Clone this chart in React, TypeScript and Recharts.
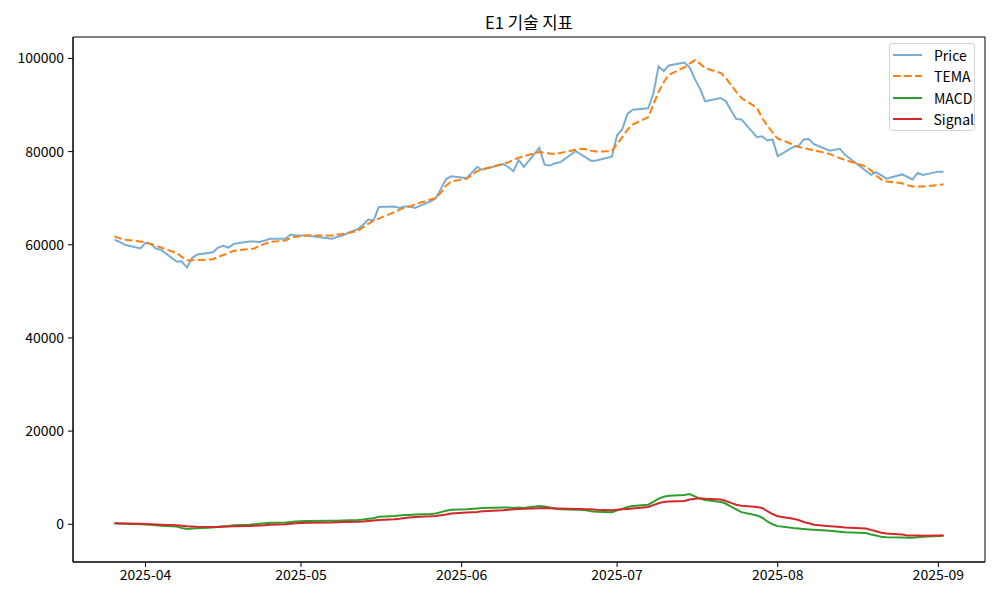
import React from 'react';
import { LineChart, Line, XAxis, YAxis, ReferenceArea } from 'recharts';

// trading days (KRX)
const dates = [
  '2025-03-26', '2025-03-27', '2025-03-28', '2025-03-31',
  '2025-04-01', '2025-04-02', '2025-04-03', '2025-04-04', '2025-04-07', '2025-04-08', '2025-04-09', '2025-04-10',
  '2025-04-11', '2025-04-14', '2025-04-15', '2025-04-16', '2025-04-17', '2025-04-18', '2025-04-21', '2025-04-22',
  '2025-04-23', '2025-04-24', '2025-04-25', '2025-04-28', '2025-04-29', '2025-04-30',
  '2025-05-02', '2025-05-07', '2025-05-08', '2025-05-09', '2025-05-12', '2025-05-13', '2025-05-14', '2025-05-15',
  '2025-05-16', '2025-05-19', '2025-05-20', '2025-05-21', '2025-05-22', '2025-05-23', '2025-05-26', '2025-05-27',
  '2025-05-28', '2025-05-29', '2025-05-30',
  '2025-06-02', '2025-06-04', '2025-06-05', '2025-06-09', '2025-06-10', '2025-06-11', '2025-06-12', '2025-06-13',
  '2025-06-16', '2025-06-17', '2025-06-18', '2025-06-19', '2025-06-20', '2025-06-23', '2025-06-24', '2025-06-25',
  '2025-06-26', '2025-06-27', '2025-06-30',
  '2025-07-01', '2025-07-02', '2025-07-03', '2025-07-04', '2025-07-07', '2025-07-08', '2025-07-09', '2025-07-10',
  '2025-07-11', '2025-07-14', '2025-07-15', '2025-07-16', '2025-07-17', '2025-07-18', '2025-07-21', '2025-07-22',
  '2025-07-23', '2025-07-24', '2025-07-25', '2025-07-28', '2025-07-29', '2025-07-30', '2025-07-31',
  '2025-08-01', '2025-08-04', '2025-08-05', '2025-08-06', '2025-08-07', '2025-08-08', '2025-08-11', '2025-08-12',
  '2025-08-13', '2025-08-14', '2025-08-18', '2025-08-19', '2025-08-20', '2025-08-21', '2025-08-22', '2025-08-25',
  '2025-08-26', '2025-08-27', '2025-08-28', '2025-08-29',
  '2025-09-01', '2025-09-02',
];

const price = [
  61100, 60600, 60000, 59200,
  60400, 60200, 59200, 58900, 56400, 56400, 55100, 57200, 57900, 58400, 59400, 59800, 59400, 60200, 60700, 60700,
  60600, 60900, 61300, 61300, 62200, 62000,
  62000, 61300, 61700, 62000, 63400, 64300, 65400, 65200, 68100, 68200, 67900, 68200, 68200, 67900, 69300, 70000,
  72000, 74100, 74700,
  74300, 76700, 76100, 77300, 76700, 75800, 78200, 76700, 80800, 77200, 77000, 77500, 77700, 80100, 79400, 78700,
  78000, 78100, 78900,
  83500, 84800, 88100, 89000, 89300, 92400, 98300, 97300, 98500, 99100, 98100, 95600, 93500, 90800, 91500, 90800,
  88800, 87000, 86900, 83100, 83300, 82400, 82600,
  79000, 81000, 81200, 82600, 82700, 81600, 80200, 80400, 80600, 79300, 75900, 75000, 75600, 74900, 74200, 75100,
  74600, 74000, 75400, 75000,
  75700, 75700,
];

const tema = [
  61800, 61400, 61100, 60700,
  60500, 60200, 59800, 59400, 58200, 57400, 56700, 56700, 56700, 56900, 57400, 57800, 58200, 58700, 59100, 59200,
  59800, 60200, 60600, 60900, 61500, 61700,
  62000, 62000, 62200, 62300, 63000, 63800, 64500, 65200, 65600, 67000, 67500, 68000, 68200, 68700, 69700, 70000,
  71200, 72700, 73600,
  74200, 75800, 76200, 77400, 77700, 78200, 78700, 79000, 79900, 79800, 79600, 79500, 79700, 80400, 80600, 80500,
  80200, 80000, 80100,
  81700, 83100, 84700, 85800, 87400, 90100, 92800, 94900, 96500, 98100, 98900, 99600, 98900, 97900, 96900, 95800,
  94300, 92800, 91500, 89400, 87200, 85600, 84100,
  82800, 81500, 81000, 80800, 80500, 80300, 79500, 79000, 78600, 78200, 76800, 76000, 74900, 74000, 73600, 73200,
  72800, 72500, 72500, 72500,
  72800, 73000,
];

const macd = [
  200, 150, 100, 0,
  -50, -100, -200, -300, -500, -800, -1000, -900, -850, -700, -550, -400, -350, -200, -100, 0,
  100, 200, 300, 400, 500, 600,
  700, 750, 750, 800, 900, 1000, 1200, 1300, 1600, 1800, 1900, 2000, 2000, 2100, 2200, 2300,
  2600, 2900, 3100,
  3200, 3400, 3500, 3600, 3600, 3500, 3600, 3500, 3900, 3800, 3600, 3400, 3200, 3100, 3100, 3000,
  2800, 2700, 2600,
  3000, 3300, 3700, 3900, 4200, 4800, 5500, 5900, 6100, 6300, 6500, 6000, 5500, 5200, 4800, 4400,
  3800, 3200, 2600, 1900, 1400, 600, 0,
  -400, -800, -900, -1000, -1100, -1200, -1400, -1500, -1600, -1700, -1900, -2200, -2400, -2700, -2800, -2850,
  -2900, -2900, -2800, -2700,
  -2500, -2400,
];

const signal = [
  200, 180, 150, 100,
  50, 0, -50, -100, -200, -300, -450, -500, -550, -600, -600, -550, -500, -450, -350, -300,
  -250, -200, -100, 0, 100, 200,
  300, 400, 450, 500, 550, 600, 700, 800, 900, 1100, 1200, 1350, 1450, 1550, 1700, 1800,
  1950, 2100, 2300,
  2500, 2650, 2800, 3000, 3100, 3200, 3300, 3350, 3450, 3500, 3450, 3400, 3400, 3300, 3300, 3250,
  3200, 3100, 3000,
  3100, 3200, 3300, 3400, 3700, 4100, 4500, 4800, 4900, 5000, 5300, 5500, 5600, 5500, 5300, 5000,
  4600, 4200, 4000, 3700, 3500, 2800, 2200,
  1700, 1200, 900, 500, 200, -100, -400, -500, -600, -700, -900, -1200, -1500, -1800, -2000, -2200,
  -2400, -2400, -2400, -2450,
  -2400, -2400,
];

const monthTicks = ['2025-04-01', '2025-05-01', '2025-06-01', '2025-07-01', '2025-08-01', '2025-09-01'];
const yTicks = [0, 20000, 40000, 60000, 80000, 100000];

const toTime = (s: string) => Date.parse(s + 'T00:00:00Z');

const chartData = dates.map((d, i) => ({
  t: toTime(d),
  price: price[i],
  tema: tema[i],
  macd: macd[i],
  signal: signal[i],
}));

const xMin = toTime('2025-03-18');
const xMax = toTime('2025-09-10');
const yMin = -8100;
const yMax = 104600;

const FONT = "'Noto Sans CJK KR', 'Noto Sans', sans-serif";

const series = [
  { key: 'price', name: 'Price', color: '#1f77b4', opacity: 0.6, dash: undefined },
  { key: 'tema', name: 'TEMA', color: '#ff7f0e', opacity: 1, dash: '7.7 3.3' },
  { key: 'macd', name: 'MACD', color: '#2ca02c', opacity: 1, dash: undefined },
  { key: 'signal', name: 'Signal', color: '#d62728', opacity: 1, dash: undefined },
];

// matplotlib-style legend box, upper right
const LegendBox = () => (
  <div
    style={{
      position: 'absolute',
      left: 889,
      top: 43,
      width: 84,
      height: 86,
      border: '1px solid #d4d4d4',
      borderRadius: 3,
      background: 'rgba(255,255,255,0.8)',
      fontFamily: FONT,
      fontSize: 14,
      color: '#000',
    }}
  >
    {series.map((s) => (
      <div key={s.key} style={{ height: 21.5, display: 'flex', alignItems: 'center' }}>
        <svg width={40} height={10} style={{ marginLeft: 3 }}>
          <line x1={0} y1={5} x2={29} y2={5} stroke={s.color} strokeOpacity={s.opacity}
            strokeWidth={2} strokeDasharray={s.dash} />
        </svg>
        <span style={{ marginLeft: 1 }}>{s.name}</span>
      </div>
    ))}
  </div>
);

export default function App() {
  return (
    <div style={{ position: 'absolute', left: 0, top: 0, width: 1000, height: 600, background: '#fff' }}>
      <div
        style={{
          position: 'absolute', left: 73, top: 10, width: 912, textAlign: 'center',
          fontFamily: FONT, fontSize: 16.7, lineHeight: '24px', color: '#000',
        }}
      >
        E1 기술 지표
      </div>
      <LineChart width={1000} height={600} data={chartData}
        margin={{ top: 37, right: 15, bottom: 0, left: 10 }}>
        <XAxis
          dataKey="t"
          type="number"
          scale="time"
          domain={[xMin, xMax]}
          ticks={monthTicks.map(toTime)}
          tickFormatter={(v: number) => new Date(v).toISOString().slice(0, 7)}
          height={38}
          tickSize={5}
          tickMargin={3}
          axisLine={{ stroke: '#000' }}
          tickLine={{ stroke: '#000' }}
          tick={{ fill: '#000', fontSize: 14, fontFamily: FONT }}
        />
        <YAxis
          type="number"
          domain={[yMin, yMax]}
          ticks={yTicks}
          allowDataOverflow
          width={63}
          tickSize={5}
          tickMargin={4}
          axisLine={{ stroke: '#000' }}
          tickLine={{ stroke: '#000' }}
          tick={{ fill: '#000', fontSize: 14, fontFamily: FONT }}
        />
        <ReferenceArea x1={xMin} x2={xMax} y1={yMin} y2={yMax} fill="none" stroke="#000" strokeWidth={1} />
        {series.map((s) => (
          <Line
            key={s.key}
            type="linear"
            dataKey={s.key}
            name={s.name}
            stroke={s.color}
            strokeOpacity={s.opacity}
            strokeWidth={2}
            strokeDasharray={s.dash}
            dot={false}
            activeDot={false}
            isAnimationActive={false}
          />
        ))}
      </LineChart>
      <LegendBox />
    </div>
  );
}
